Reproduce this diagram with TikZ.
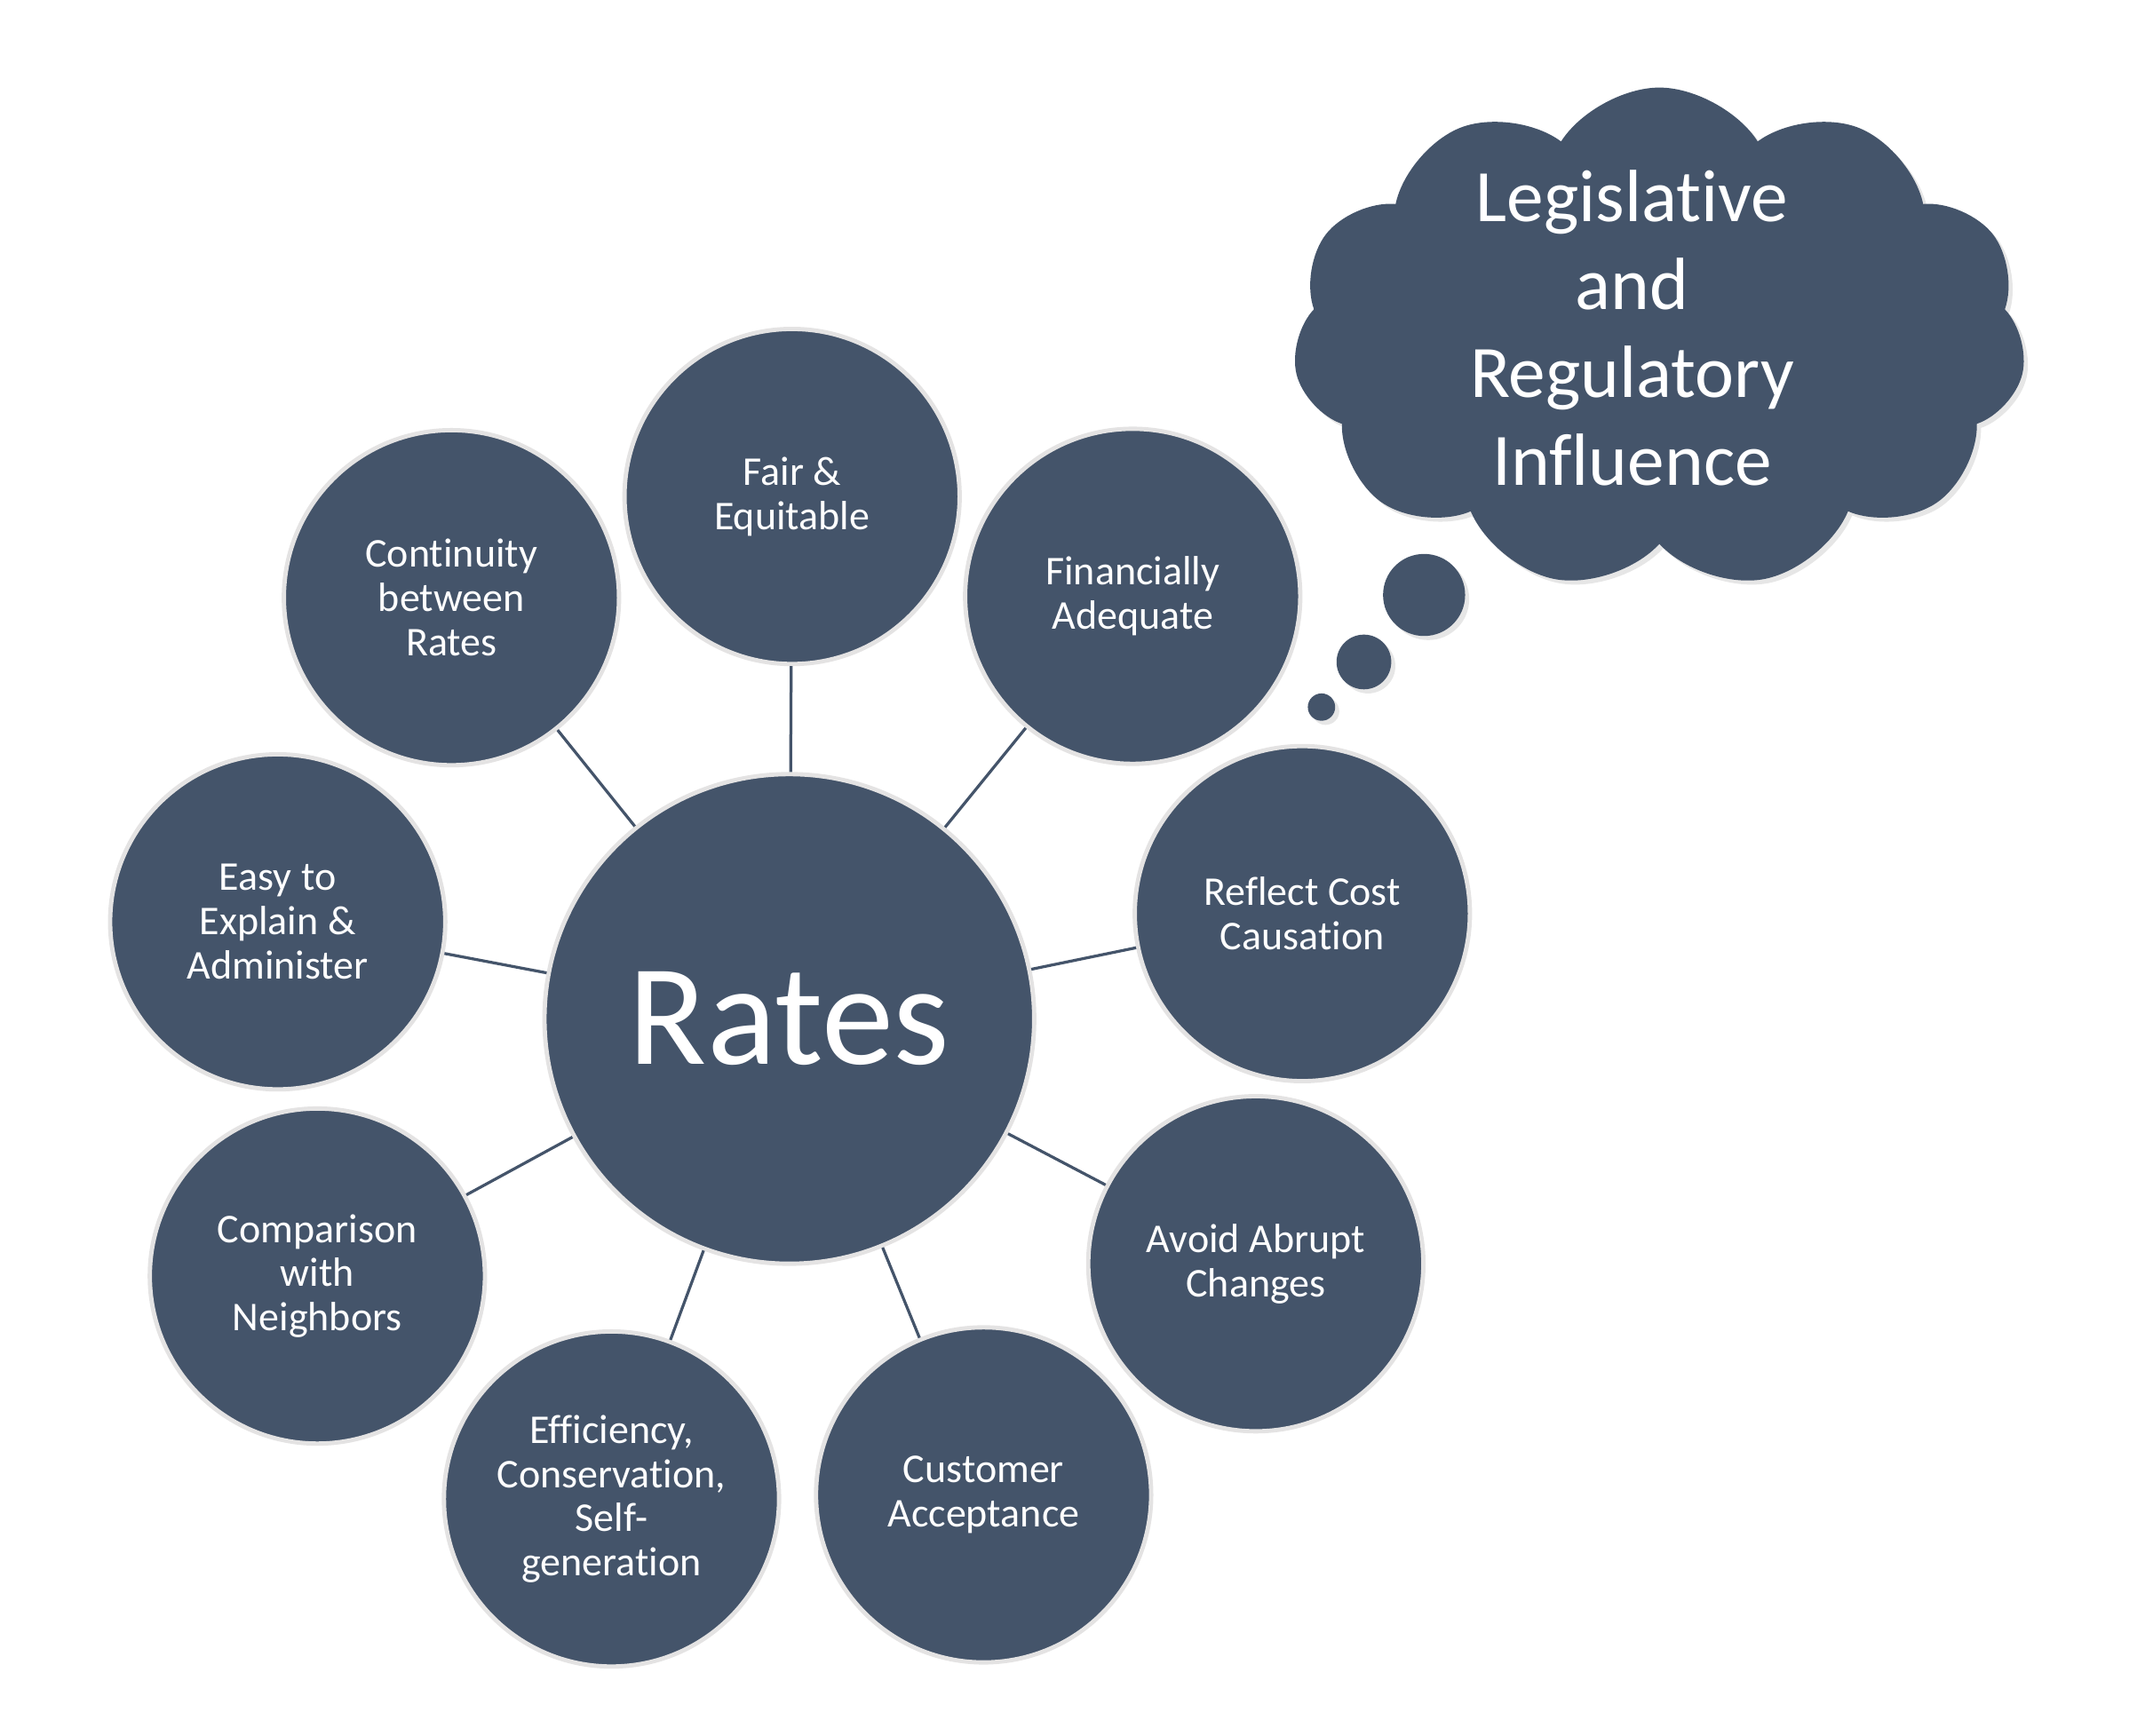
\documentclass[tikz,border=0pt]{standalone}
\usepackage{fontspec}
\setmainfont{Carlito}[Ligatures=NoCommon]
\usetikzlibrary{shapes.symbols,shadows}

\definecolor{slate}{HTML}{44546A}
\definecolor{rim}{HTML}{E4E3E3}

\begin{document}
\begin{tikzpicture}[
    bubble/.style={circle, fill=slate, draw=rim, line width=0.9pt, text=white,
                   align=center, inner sep=1pt, minimum size=2.45cm,
                   font=\fontsize{8.5}{9.2}\selectfont},
    hub/.style={bubble, minimum size=3.58cm, font=\fontsize{30}{35}\selectfont},
    puff/.style={circle, fill=slate, inner sep=0pt,
                 drop shadow={shadow xshift=0.03cm, shadow yshift=-0.03cm, opacity=0.2}},
    spoke/.style={draw=slate, line width=0.6pt}
  ]
    \useasboundingbox (0,0) rectangle (15.68,-12.69);

    \node[hub] (rates) at (5.77,-7.45) {Rates};
    \node[bubble] (fair) at (5.79,-3.63) {Fair \&\\Equitable};
    \node[bubble] (fin) at (8.28,-4.36) {Financially\\Adequate};
    \node[bubble] (cont) at (3.30,-4.37) {Continuity\\between\\Rates};
    \node[bubble] (easy) at (2.03,-6.74) {Easy to\\Explain \&\\Administer};
    \node[bubble] (cost) at (9.52,-6.68) {Reflect Cost\\Causation};
    \node[bubble] (comp) at (2.32,-9.33) {Comparison\\with\\Neighbors};
    \node[bubble] (abrupt) at (9.18,-9.24) {Avoid Abrupt\\Changes};
    \node[bubble] (eff) at (4.47,-10.96) {Efficiency,\\Conservation,\\Self-\\generation};
    \node[bubble] (cust) at (7.19,-10.93) {Customer\\Acceptance};
    \foreach \b in {fair, fin, cont, easy, cost, comp, abrupt, eff, cust}
      \draw[spoke] (rates) -- (\b);

    % thought cloud
    \node[puff, cloud, cloud puffs=11, cloud puff arc=115, cloud ignores aspect,
          minimum width=5.36cm, minimum height=3.67cm] (cloud) at (12.13,-2.475) {};
    \node[text=white, align=center, font=\fontsize{15.4}{18.3}\selectfont]
      (infl) at (11.93,-2.40) {Legislative\\and\\Regulatory\\Influence};
    \node[puff, minimum size=0.60cm] (dot1) at (10.41,-4.35) {};
    \node[puff, minimum size=0.40cm] (dot2) at (9.97,-4.84) {};
    \node[puff, minimum size=0.20cm] (dot3) at (9.66,-5.17) {};
  \end{tikzpicture}
\end{document}
